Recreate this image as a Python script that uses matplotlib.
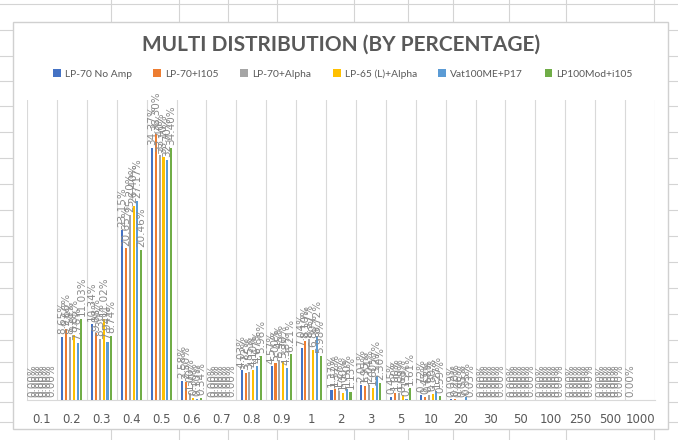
import numpy as np
import matplotlib.pyplot as plt
from matplotlib.patches import Rectangle

nan = np.nan

categories = ['0.1', '0.2', '0.3', '0.4', '0.5', '0.6', '0.7', '0.8', '0.9', '1',
              '2', '3', '5', '10', '20', '30', '50', '100', '250', '500', '1000']

series_names = ['LP-70 No Amp', 'LP-70+I105', 'LP-70+Alpha',
                'LP-65 (L)+Alpha', 'Vat100ME+P17', 'LP100Mod+i105']

lp70_no_amp = [0, 8.65, 10.34, 23.15, 34.37, 2.58, 0, 4.03, 4.57, 7.04,
               1.37, 2.01, 0.45, 0.72, 0.09, 0, 0, 0, 0, 0, 0]
lp70_i105 = [0, 9.66, 9.08, 20.65, 36.30, 2.50, 0, 3.72, 5.00, 8.10,
             1.52, 1.95, 1.00, 0.45, 0.20, 0, 0, 0, 0, 0, nan]
lp70_alpha = [0, 8.58, 8.30, 25.20, 33.40, 1.00, 0, 3.85, 5.45, 8.27,
              1.27, 2.04, 1.00, 0.68, 0.06, 0, 0, 0, 0, 0, nan]
lp65_alpha = [0, 8.85, 11.02, 26.40, 33.10, 0.30, 0, 4.10, 5.30, 6.80,
              1.00, 1.60, 0.68, 0.80, 0.05, 0, 0, 0, 0, 0, nan]
vat100me_p17 = [0, 7.76, 7.94, 27.17, 32.70, 0.10, 0, 4.67, 4.38, 8.72,
                1.50, 3.27, 0.15, 1.27, 0.35, 0, 0, 0, 0, 0, nan]
lp100mod_i105 = [0, 11.03, 8.74, 20.46, 34.40, 0.34, 0, 5.96, 6.21, 5.98,
                 1.13, 2.30, 1.61, 0.59, 0.03, 0, 0, 0, 0, 0, nan]

all_series = [lp70_no_amp, lp70_i105, lp70_alpha, lp65_alpha, vat100me_p17, lp100mod_i105]
colors = ['#4472C4', '#ED7D31', '#A5A5A5', '#FFC000', '#5B9BD5', '#70AD47']

W, H = 678, 440
fig = plt.figure(figsize=(W / 100, H / 100), dpi=100)

# spreadsheet cells behind the chart
bg = fig.add_axes([0, 0, 1, 1])
bg.set_xlim(0, W)
bg.set_ylim(H, 0)
bg.axis('off')
for x in [111, 179, 228, 277, 354, 408, 453, 509, 566, 654]:
    bg.plot([x, x], [0, H], color='#d4d4d4', lw=0.8, zorder=1)
for y in [4, 30, 56, 81, 106, 132, 158, 184, 210, 236, 262, 288, 314, 340, 362, 382, 402, 422]:
    bg.plot([0, W], [y, y], color='#d4d4d4', lw=0.8, zorder=1)
bg.add_patch(Rectangle((13, 22), 655, 407, facecolor='white', edgecolor='#d0d0d0',
                       lw=1, zorder=5))

# chart
px_per_pct = 7.34
top_y = 100
base_y = 400
ax = fig.add_axes([27 / W, (H - base_y) / H, (655 - 27) / W, (base_y - top_y) / H])
ax.set_facecolor('none')
ax.set_ylim(0, (base_y - top_y) / px_per_pct)
ax.set_xlim(-0.5, len(categories) - 0.5)

x = np.arange(len(categories))
step = 0.127
width = 0.07
for i, (vals, name, c) in enumerate(zip(all_series, series_names, colors)):
    vals = np.array(vals, dtype=float)
    bars = ax.bar(x + (i - 2.5) * step, vals, width=width, color=c, label=name, zorder=3)
    labels = ['' if np.isnan(v) else f'{v:.2f}%' for v in vals]
    ax.bar_label(bars, labels=labels, rotation=90, padding=2, fontsize=7.5,
                 color='#8a8a8a', zorder=4)

for b in np.arange(-0.5, len(categories), 1.0):
    ax.axvline(b, color='#d9d9d9', lw=0.8, zorder=1)

ax.set_xticks(x)
ax.set_xticklabels(categories)
ax.tick_params(axis='x', length=0, pad=9, labelsize=8.5, labelcolor='#595959')
ax.set_yticks([])
for s in ['top', 'left', 'right']:
    ax.spines[s].set_visible(False)
ax.spines['bottom'].set_color('#d9d9d9')

fig.text(341 / W, 1 - 45 / H, 'MULTI DISTRIBUTION (BY PERCENTAGE)', ha='center', va='center',
         fontsize=15, fontweight='bold', color='#595959', family='Lato')
fig.legend(loc='center', bbox_to_anchor=(343 / W, 1 - 74 / H), ncol=6, frameon=False,
           prop={'family': 'Lato', 'size': 7.4}, handlelength=0.75, handleheight=0.75,
           handletextpad=0.4, columnspacing=2.1, labelcolor='#595959')

fig.savefig('out.png', dpi=100)
